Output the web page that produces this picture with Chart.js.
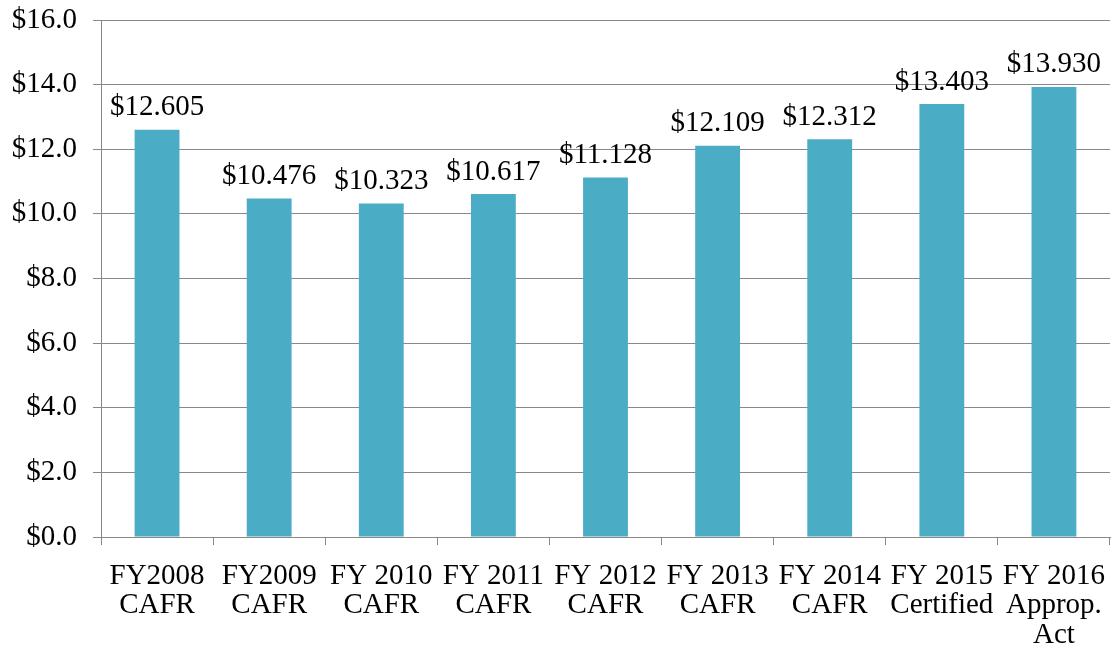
<!DOCTYPE html>
<html>
<head>
<meta charset="utf-8">
<script src="https://cdn.jsdelivr.net/npm/chart.js@4"></script>
<style>
  html, body { margin: 0; padding: 0; background: #fff; }
  #wrap { width: 1112px; height: 652px; }
</style>
</head>
<body>
<div id="wrap"><canvas id="chart"></canvas></div>
<script>
// Datos del gráfico
const categories = [
    ['FY2008', 'CAFR'],
    ['FY2009', 'CAFR'],
    ['FY 2010', 'CAFR'],
    ['FY 2011', 'CAFR'],
    ['FY 2012', 'CAFR'],
    ['FY 2013', 'CAFR'],
    ['FY 2014', 'CAFR'],
    ['FY 2015', 'Certified'],
    ['FY 2016', 'Approp.', 'Act']
];
const values = [12.605, 10.476, 10.323, 10.617, 11.128, 12.109, 12.312, 13.403, 13.930];
const yTicks = [0, 2, 4, 6, 8, 10, 12, 14, 16];

const serif = '"Liberation Serif", "Times New Roman", serif';
const gridGray = '#888888';

// Etiquetas de valor encima de cada barra
const valueLabels = {
    id: 'valueLabels',
    afterDatasetsDraw(chart) {
        const ctx = chart.ctx;
        const meta = chart.getDatasetMeta(0);
        ctx.save();
        ctx.font = '29px ' + serif;
        ctx.fillStyle = '#000';
        ctx.textAlign = 'center';
        ctx.textBaseline = 'middle';
        meta.data.forEach((bar, i) => {
            ctx.fillText('$' + values[i].toFixed(3), bar.x, bar.y - 22);
        });
        ctx.restore();
    }
};

const ctx = document.getElementById('chart').getContext('2d');
new Chart(ctx, {
    type: 'bar',
    data: {
        labels: categories,
        datasets: [{
            data: values,
            backgroundColor: '#4BACC6',
            barPercentage: 0.4,
            categoryPercentage: 1
        }]
    },
    options: {
        responsive: true,
        maintainAspectRatio: false,
        animation: false,
        layout: { padding: { top: 20, right: 2, left: 0, bottom: 0 } },
        plugins: {
            legend: { display: false },
            tooltip: { enabled: false }
        },
        scales: {
            x: {
                grid: {
                    offset: true,
                    drawOnChartArea: false,
                    drawTicks: true,
                    tickLength: 8,
                    color: gridGray
                },
                border: { color: gridGray, width: 1 },
                ticks: {
                    color: '#000',
                    padding: 16,
                    maxRotation: 0,
                    autoSkip: false,
                    font: { family: serif, size: 29, lineHeight: 1.03 }
                },
                afterFit(scale) {
                    scale.height = 115;
                    scale.paddingLeft = 0;
                    scale.paddingRight = 0;
                }
            },
            y: {
                min: 0,
                max: 16,
                afterBuildTicks(scale) {
                    scale.ticks = yTicks.map(v => ({ value: v }));
                },
                grid: {
                    color: gridGray,
                    tickLength: 8
                },
                border: { color: gridGray, width: 1 },
                ticks: {
                    color: '#000',
                    padding: 16,
                    font: { family: serif, size: 29, lineHeight: 0.2 },
                    callback: v => '$' + Number(v).toFixed(1)
                },
                afterFit(scale) { scale.width = 101; }
            }
        }
    },
    plugins: [valueLabels]
});
</script>
</body>
</html>
